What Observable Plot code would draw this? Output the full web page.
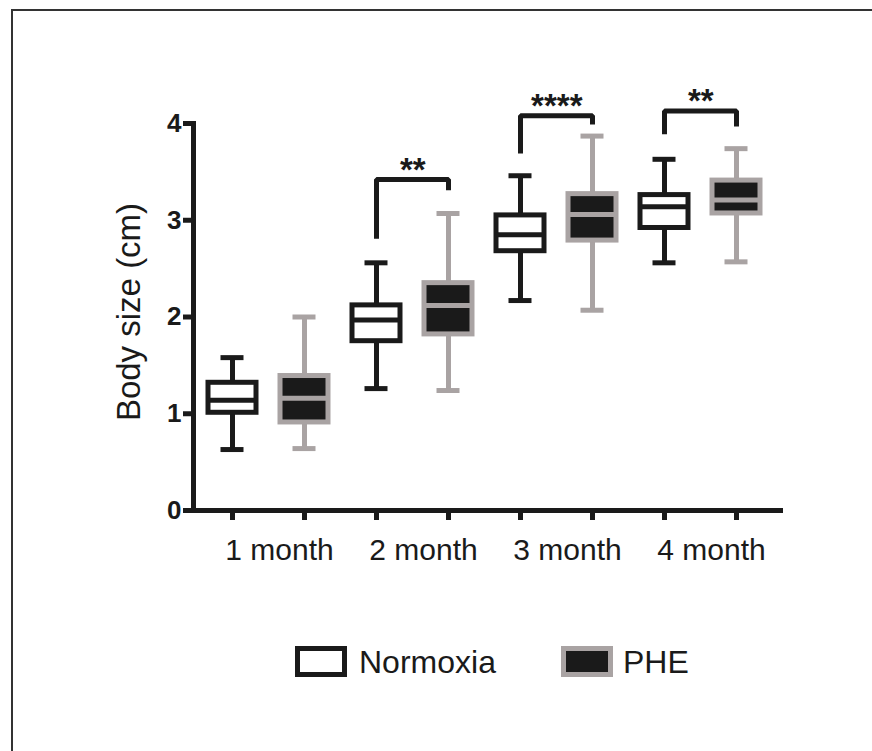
<!DOCTYPE html>
<html>
<head>
<meta charset="utf-8">
<script src="https://cdn.jsdelivr.net/npm/d3@7"></script>
<script src="https://cdn.jsdelivr.net/npm/@observablehq/plot@0.6"></script>
<style>
  html, body { margin: 0; padding: 0; background: #fff; }
  #wrap { position: relative; width: 872px; height: 751px; overflow: hidden; background: #fff;
          font-family: "Liberation Sans", Arial, sans-serif; color: #1a1a1a; }
  #chart { position: absolute; left: 0; top: 0; }
  #border { position: absolute; left: 11px; top: 9px; right: -20px; bottom: -20px;
            border-left: 2px solid #333; border-top: 2px solid #333; pointer-events: none; }
  .sw { position: absolute; box-sizing: border-box; width: 52px; height: 31px; border: 5px solid; }
  .lt { position: absolute; font-size: 32px; line-height: 32px; white-space: nowrap; }
</style>
</head>
<body>
<div id="wrap">
  <div id="chart"></div>
  <div class="sw" style="left:295px; top:646px; border-color:#1a1a1a; background:#fff;"></div>
  <div class="lt" style="left:359px; top:646px;">Normoxia</div>
  <div class="sw" style="left:561px; top:646px; border-color:#a9a3a3; background:#1a1a1a;"></div>
  <div class="lt" style="left:623px; top:646px;">PHE</div>
  <div id="border"></div>
</div>
<script>
// ---- data ----
const months = ["1 month", "2 month", "3 month", "4 month"];
const groups = ["Normoxia", "PHE"];

const normoxiaMin = [0.63, 1.26, 2.17, 2.56];
const normoxiaQ1  = [1.01, 1.75, 2.68, 2.92];
const normoxiaMed = [1.14, 1.97, 2.85, 3.14];
const normoxiaQ3  = [1.32, 2.12, 3.05, 3.26];
const normoxiaMax = [1.58, 2.56, 3.46, 3.63];

const pheMin = [0.64, 1.24, 2.07, 2.57];
const pheQ1  = [0.91, 1.82, 2.79, 3.07];
const pheMed = [1.16, 2.12, 3.06, 3.21];
const pheQ3  = [1.39, 2.35, 3.27, 3.41];
const pheMax = [2.00, 3.07, 3.87, 3.74];

const sigMonths = ["2 month", "3 month", "4 month"];
const sigLabels = ["**", "****", "**"];
const bracketTop = [3.42, 4.08, 4.13];
const bracketLeftEnd = [2.81, 3.69, 3.89];
const bracketRightEnd = [3.31, 3.99, 3.97];

const yTicks = [0, 1, 2, 3, 4];
const yLabel = "Body size (cm)";

// ---- build tables ----
const BLACK = "#1a1a1a", GRAY = "#a9a3a3";
const key = (m, g) => m + "|" + g;
const rows = months.flatMap((m, i) => [
  {key: key(m, "Normoxia"), group: "Normoxia", min: normoxiaMin[i], q1: normoxiaQ1[i], med: normoxiaMed[i], q3: normoxiaQ3[i], max: normoxiaMax[i]},
  {key: key(m, "PHE"), group: "PHE", min: pheMin[i], q1: pheQ1[i], med: pheMed[i], q3: pheQ3[i], max: pheMax[i]}
]);
const keys = rows.map(r => r.key);

const bracketPts = sigMonths.flatMap((m, i) => [
  {b: i, key: key(m, "Normoxia"), y: bracketLeftEnd[i]},
  {b: i, key: key(m, "Normoxia"), y: bracketTop[i]},
  {b: i, key: key(m, "PHE"), y: bracketTop[i]},
  {b: i, key: key(m, "PHE"), y: bracketRightEnd[i]}
]);
const sigRows = sigMonths.map((m, i) => ({key: key(m, "Normoxia"), y: bracketTop[i], label: sigLabels[i]}));

const marks = [];
for (const g of groups) {
  const data = rows.filter(r => r.group === g);
  const st = g === "Normoxia" ? BLACK : GRAY;
  const fl = g === "Normoxia" ? "#ffffff" : BLACK;
  marks.push(
    Plot.ruleX(data, {x: "key", y1: "min", y2: "max", stroke: st, strokeWidth: 5}),
    Plot.tickY(data, {x: "key", y: "min", stroke: st, strokeWidth: 5, insetLeft: 12.5, insetRight: 12.5}),
    Plot.tickY(data, {x: "key", y: "max", stroke: st, strokeWidth: 5, insetLeft: 12.5, insetRight: 12.5}),
    Plot.barY(data, {x: "key", y1: "q1", y2: "q3", fill: fl, stroke: st, strokeWidth: 5}),
    Plot.tickY(data, {x: "key", y: "med", stroke: st, strokeWidth: 5})
  );
}

const chart = Plot.plot({
  width: 872,
  height: 600,
  marginLeft: 193,
  marginRight: 89,
  marginTop: 123,
  marginBottom: 90,
  style: {fontFamily: "Liberation Sans, Arial, sans-serif", color: BLACK, background: "transparent", overflow: "visible"},
  x: {domain: keys, range: [193, 775], paddingInner: 0.34, paddingOuter: 0.18},
  y: {domain: [0, 4]},
  marks: [
    Plot.axisY({ticks: yTicks, tickSize: 10, strokeWidth: 5, tickFormat: () => "", label: null}),
    Plot.text(yTicks, {y: d => d, text: d => String(d), frameAnchor: "left", dx: -12, textAnchor: "end", fontSize: 26, fontWeight: "bold", fill: BLACK}),
    Plot.axisX({tickSize: 10, strokeWidth: 5, tickFormat: () => "", label: null}),
    Plot.ruleY([0], {stroke: BLACK, strokeWidth: 5}),
    Plot.frame({anchor: "left", stroke: BLACK, strokeWidth: 5}),
    ...marks,
    Plot.line(bracketPts, {x: "key", y: "y", z: "b", stroke: BLACK, strokeWidth: 5, strokeLinejoin: "miter", strokeLinecap: "butt"}),
    Plot.text(sigRows, {x: "key", y: "y", text: "label", dx: 36.3, dy: 1, lineAnchor: "bottom", fontSize: 33, fontWeight: "bold", fill: BLACK}),
    Plot.text(months, {x: m => key(m, "Normoxia"), text: d => d, frameAnchor: "bottom", dx: 47, dy: 49, lineAnchor: "bottom", textAnchor: "middle", fontSize: 30, fill: BLACK}),
    Plot.text([yLabel], {text: d => d, frameAnchor: "left", rotate: -90, dx: -54, dy: -5, textAnchor: "middle", lineAnchor: "bottom", fontSize: 33, fill: BLACK})
  ]
});
document.getElementById("chart").appendChild(chart);
</script>
</body>
</html>
